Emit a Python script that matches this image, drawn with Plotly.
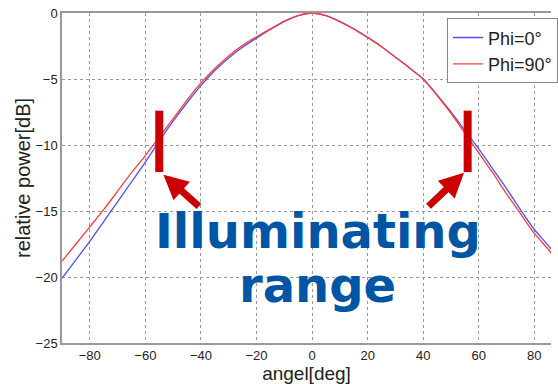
import plotly.graph_objects as go

angles = [-90, -85, -80, -75, -70, -65, -60, -55, -50, -45, -40, -35, -30, -25, -20, -15, -10, -5,
          0, 5, 10, 15, 20, 25, 30, 35, 40, 45, 50, 55, 60, 65, 70, 75, 80, 85, 90]
phi0 = [-20.1, -18.7, -17.3, -15.8, -14.3, -12.8, -11.3, -9.7, -8.2, -6.8, -5.5, -4.35, -3.4, -2.6,
        -1.9, -1.25, -0.65, -0.2, 0.0, -0.2, -0.65, -1.2, -1.85, -2.55, -3.35, -4.15, -5.0, -6.2,
        -7.5, -8.9, -10.3, -11.8, -13.3, -14.9, -16.4, -17.6, -18.9]
phi90 = [-18.8, -17.5, -16.2, -14.9, -13.5, -12.1, -10.8, -9.4, -8.0, -6.6, -5.3, -4.2, -3.25, -2.45,
         -1.8, -1.2, -0.62, -0.2, 0.0, -0.2, -0.65, -1.2, -1.85, -2.55, -3.35, -4.15, -5.0, -6.25,
         -7.6, -9.1, -10.6, -12.1, -13.7, -15.2, -16.7, -17.9, -19.2]
series_names = ["Phi=0°", "Phi=90°"]
x_ticks = [-80, -60, -40, -20, 0, 20, 40, 60, 80]
y_ticks = [0, -5, -10, -15, -20, -25]
range_edges = [-55, 56]
range_levels = [-7.4, -12.05]

fig = go.Figure()
fig.add_trace(go.Scatter(x=angles, y=phi0, mode="lines", name=series_names[0],
                         line=dict(color="rgb(80,80,255)", width=1.3, shape="spline", smoothing=0.7)))
fig.add_trace(go.Scatter(x=angles, y=phi90, mode="lines", name=series_names[1],
                         line=dict(color="rgb(255,60,60)", width=1.3, shape="spline", smoothing=0.7)))

for xe in range_edges:
    fig.add_shape(type="line", xref="x", yref="y", x0=xe, x1=xe,
                  y0=range_levels[0], y1=range_levels[1],
                  line=dict(color="#cc0000", width=8))

arrow_common = dict(xref="x", yref="y", axref="pixel", ayref="pixel", text="",
                    showarrow=True, arrowhead=2, arrowsize=0.7, arrowwidth=7,
                    arrowcolor="#cc0000", standoff=0)
fig.add_annotation(x=-53.5, y=-12.25, ax=37, ay=33, **arrow_common)
fig.add_annotation(x=54.7, y=-12.1, ax=-37, ay=35, **arrow_common)

txt_font = dict(family="DejaVu Sans", size=48, color="#0055A4", weight="bold")
fig.add_annotation(x=2, y=-16.5, xref="x", yref="y", text="<b>Illuminating</b>",
                   showarrow=False, font=txt_font, xanchor="center", yanchor="middle")
fig.add_annotation(x=2, y=-20.6, xref="x", yref="y", text="<b>range</b>",
                   showarrow=False, font=txt_font, xanchor="center", yanchor="middle")

axis_font = dict(family="Liberation Sans, Arial", size=13, color="#222")
fig.update_xaxes(range=[-90, 86], tickvals=x_ticks, showgrid=True, gridcolor="#999",
                 griddash="dot", gridwidth=1, zeroline=False, showline=True,
                 linecolor="#999", linewidth=1.5, mirror=True, ticks="",
                 tickfont=axis_font,
                 title=dict(text="angel[deg]", font=dict(family="Liberation Sans, Arial", size=19, color="#222"),
                            standoff=0))
fig.update_yaxes(range=[-25, 0], tickvals=y_ticks, showgrid=True, gridcolor="#999",
                 griddash="dot", gridwidth=1, zeroline=False, showline=True,
                 linecolor="#999", linewidth=1.5, mirror=False, ticks="",
                 tickfont=axis_font,
                 title=dict(text="relative power[dB]", font=dict(family="Liberation Sans, Arial", size=20, color="#222"),
                            standoff=0))

fig.update_layout(
    width=558, height=384,
    margin=dict(l=62, r=0, t=13, b=41),
    plot_bgcolor="white", paper_bgcolor="white",
    showlegend=True,
    legend=dict(x=0.788, y=0.984, xanchor="left", yanchor="top",
                bgcolor="white", bordercolor="#888", borderwidth=1,
                font=dict(family="Liberation Sans, Arial", size=18, color="#222"),
                tracegroupgap=0, itemwidth=30),
)

fig.write_html("out.html")
